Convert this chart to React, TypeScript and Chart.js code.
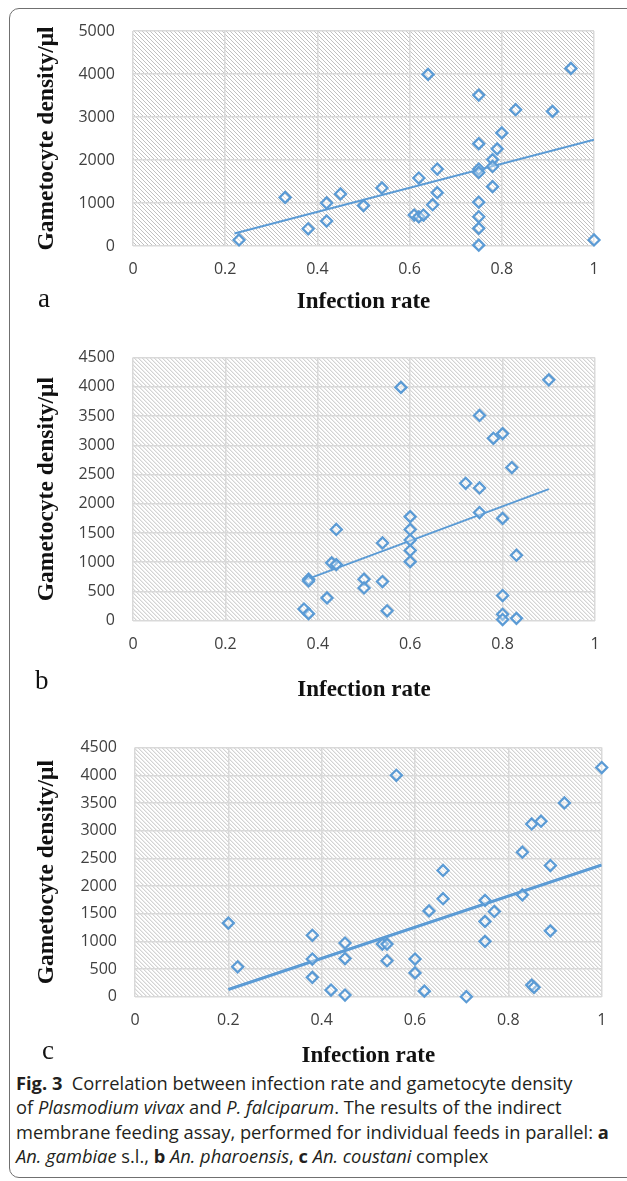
import React, { useEffect, useRef } from "react";
import { Chart, registerables } from "chart.js";

Chart.register(...registerables);

// ---------- data ----------
const xTickLabels = ["0", "0.2", "0.4", "0.6", "0.8", "1"];
const yTickLabelsA = ["0", "1000", "2000", "3000", "4000", "5000"];
const yTickLabelsBC = ["0", "500", "1000", "1500", "2000", "2500", "3000", "3500", "4000", "4500"];

// a: An. gambiae s.l.
const aX = [0.23, 0.33, 0.38, 0.42, 0.42, 0.45, 0.5, 0.54, 0.61, 0.62, 0.63, 0.62, 0.65, 0.66, 0.66, 0.64, 0.75, 0.75, 0.75, 0.75, 0.75, 0.75, 0.75, 0.75, 0.78, 0.78, 0.79, 0.78, 0.8, 0.83, 0.91, 0.95, 1];
const aY = [140, 1130, 400, 1000, 580, 1210, 940, 1350, 720, 680, 720, 1580, 960, 1240, 1790, 3990, 3510, 2380, 1790, 1710, 1020, 680, 410, 20, 2010, 1850, 2260, 1380, 2630, 3170, 3130, 4130, 140];
const aTrendX = [0.22, 1];
const aTrendY = [290, 2470];

// b: An. pharoensis
const bX = [0.37, 0.38, 0.38, 0.38, 0.42, 0.43, 0.44, 0.44, 0.5, 0.5, 0.54, 0.55, 0.54, 0.58, 0.6, 0.6, 0.6, 0.6, 0.6, 0.72, 0.75, 0.75, 0.75, 0.78, 0.8, 0.82, 0.8, 0.83, 0.8, 0.8, 0.8, 0.83, 0.9];
const bY = [200, 120, 710, 680, 390, 990, 960, 1560, 710, 560, 670, 170, 1330, 3990, 1780, 1560, 1380, 1200, 1010, 2350, 2270, 3510, 1850, 3120, 3200, 2620, 1750, 1120, 430, 110, 20, 40, 4120];
const bTrendX = [0.37, 0.9];
const bTrendY = [690, 2250];

// c: An. coustani complex
const cX = [0.2, 0.22, 0.38, 0.38, 0.38, 0.42, 0.45, 0.45, 0.45, 0.53, 0.54, 0.54, 0.56, 0.6, 0.6, 0.62, 0.63, 0.66, 0.66, 0.71, 0.75, 0.75, 0.75, 0.77, 0.83, 0.83, 0.85, 0.87, 0.85, 0.855, 0.89, 0.89, 0.92, 1];
const cY = [1330, 540, 1110, 680, 350, 120, 970, 690, 30, 950, 950, 650, 4000, 680, 430, 100, 1550, 2280, 1770, 0, 1740, 1360, 1000, 1540, 2610, 1840, 3120, 3170, 210, 170, 2370, 1190, 3500, 4140];
const cTrendX = [0.2, 1];
const cTrendY = [130, 2380];

const xTitle = "Infection rate";
const yTitle = "Gametocyte density/μl";

// ---------- styling / layout ----------
const BLUE = "#5B9BD5";

type Panel = {
  letter: string;
  xs: number[];
  ys: number[];
  tx: number[];
  ty: number[];
  yLabels: string[];
  yMax: number;
  yStep: number;
  top: number;
  height: number;
  padTop: number;
  padBottom: number;
  padLeft: number;
  padRight: number;
  yAxisW: number;
  xAxisH: number;
  trendW: number;
  letterLeft: number;
  letterTop: number;
};

const panels: Panel[] = [
  {
    letter: "a", xs: aX, ys: aY, tx: aTrendX, ty: aTrendY, yLabels: yTickLabelsA, yMax: 5000, yStep: 1000,
    top: 0, height: 330, padTop: 31, padBottom: 14.2, padLeft: 33, padRight: 33, yAxisW: 100, xAxisH: 69.8,
    trendW: 2, letterLeft: 38, letterTop: 285,
  },
  {
    letter: "b", xs: bX, ys: bY, tx: bTrendX, ty: bTrendY, yLabels: yTickLabelsBC, yMax: 4500, yStep: 500,
    top: 330, height: 390, padTop: 21.7, padBottom: 16.2, padLeft: 33, padRight: 32, yAxisW: 100, xAxisH: 83.1,
    trendW: 2, letterLeft: 35, letterTop: 667,
  },
  {
    letter: "c", xs: cX, ys: cY, tx: cTrendX, ty: cTrendY, yLabels: yTickLabelsBC, yMax: 4500, yStep: 500,
    top: 720, height: 350, padTop: 16.7, padBottom: 0.2, padLeft: 33, padRight: 25.3, yAxisW: 102, xAxisH: 73.1,
    trendW: 3, letterLeft: 42, letterTop: 1037,
  },
];

const hatchPlugin = {
  id: "hatchBg",
  beforeDraw(chart: any) {
    const { ctx, chartArea } = chart;
    const { left, top, right, bottom } = chartArea;
    const w = right - left;
    const h = bottom - top;
    ctx.save();
    ctx.fillStyle = "#ffffff";
    ctx.fillRect(left, top, w, h);
    ctx.beginPath();
    ctx.rect(left, top, w, h);
    ctx.clip();
    ctx.strokeStyle = "#bababa";
    ctx.lineWidth = 0.9;
    ctx.beginPath();
    for (let k = -h; k < w + 4; k += 4) {
      ctx.moveTo(left + k, top);
      ctx.lineTo(left + k + h, bottom);
    }
    ctx.stroke();
    ctx.restore();
  },
};

function ScatterPanel({ p }: { p: Panel }) {
  const ref = useRef<HTMLCanvasElement | null>(null);
  useEffect(() => {
    if (!ref.current) return;
    const points = p.xs.map((x, i) => ({ x, y: p.ys[i] }));
    const trend = p.tx.map((x, i) => ({ x, y: p.ty[i] }));
    const chart = new Chart(ref.current, {
      type: "scatter",
      data: {
        datasets: [
          {
            data: points,
            pointStyle: "rectRot",
            pointRadius: 5.5,
            pointBorderWidth: 2.3,
            borderColor: BLUE,
            backgroundColor: "rgba(255,255,255,0.35)",
            showLine: false,
            clip: false,
            order: 0,
          } as any,
          {
            data: trend,
            showLine: true,
            pointRadius: 0,
            borderColor: BLUE,
            borderWidth: p.trendW,
            fill: false,
            order: 1,
          } as any,
        ],
      },
      options: {
        animation: false,
        responsive: false,
        devicePixelRatio: window.devicePixelRatio || 1,
        events: [],
        layout: {
          padding: { top: p.padTop, bottom: p.padBottom, left: p.padLeft, right: p.padRight },
        },
        plugins: {
          legend: { display: false },
          tooltip: { enabled: false },
          title: { display: false },
        },
        scales: {
          x: {
            type: "linear",
            min: 0,
            max: 1,
            ticks: {
              stepSize: 0.2,
              autoSkip: false,
              maxRotation: 0,
              padding: 14,
              color: "#404040",
              font: { family: "'Open Sans', 'Noto Sans', sans-serif", size: 16 },
              callback: (_v: any, i: number) => xTickLabels[i],
            },
            grid: { color: "#d9d9d9", lineWidth: 1.5, drawTicks: false },
            border: { display: false },
            title: {
              display: true,
              text: xTitle,
              color: "#111",
              padding: 0,
              font: { family: "'Liberation Serif', serif", size: 23, weight: "bold" },
            },
            afterFit: (s: any) => {
              s.height = p.xAxisH;
            },
          },
          y: {
            type: "linear",
            min: 0,
            max: p.yMax,
            ticks: {
              stepSize: p.yStep,
              autoSkip: false,
              padding: 18,
              color: "#404040",
              font: { family: "'Open Sans', 'Noto Sans', sans-serif", size: 16 },
              callback: (_v: any, i: number) => p.yLabels[i],
            },
            grid: { color: "#d9d9d9", lineWidth: 1.5, drawTicks: false },
            border: { display: false },
            title: {
              display: true,
              text: yTitle,
              color: "#111",
              padding: 0,
              font: { family: "'Liberation Serif', serif", size: 23.5, weight: "bold" },
            },
            afterFit: (s: any) => {
              s.width = p.yAxisW;
            },
          },
        },
      } as any,
      plugins: [hatchPlugin],
    });
    return () => chart.destroy();
  }, [p]);

  return (
    <>
      <canvas
        ref={ref}
        width={627}
        height={p.height}
        style={{ position: "absolute", left: 0, top: p.top, width: 627, height: p.height }}
      />
      <span
        style={{
          position: "absolute",
          left: p.letterLeft,
          top: p.letterTop,
          fontFamily: "'Liberation Serif', serif",
          fontSize: 27,
          lineHeight: "27px",
          color: "#111",
        }}
      >
        {p.letter}
      </span>
    </>
  );
}

export default function App() {
  return (
    <div
      style={{
        position: "absolute",
        left: 0,
        top: 0,
        width: 627,
        height: 1181,
        overflow: "hidden",
        background: "#ffffff",
      }}
    >
      <div
        style={{
          position: "absolute",
          left: 9,
          top: 8,
          width: 660,
          height: 1170,
          border: "1.5px solid #707070",
          borderRadius: 10,
          boxSizing: "border-box",
        }}
      />
      {panels.map((p) => (
        <ScatterPanel key={p.letter} p={p} />
      ))}
      <div
        style={{
          position: "absolute",
          left: 16,
          top: 1070.6,
          fontFamily: "'Open Sans', 'Noto Sans', sans-serif",
          fontSize: 18.3,
          lineHeight: "24.5px",
          color: "#231f20",
          whiteSpace: "nowrap",
        }}
      >
        <b>Fig. 3</b>&nbsp; Correlation between infection rate and gametocyte density
        <br />
        of <i>Plasmodium vivax</i> and <i>P. falciparum</i>. The results of the indirect
        <br />
        membrane feeding assay, performed for individual feeds in parallel: <b>a</b>
        <br />
        <i>An. gambiae</i> s.l., <b>b</b> <i>An. pharoensis</i>, <b>c</b> <i>An. coustani</i> complex
      </div>
    </div>
  );
}
